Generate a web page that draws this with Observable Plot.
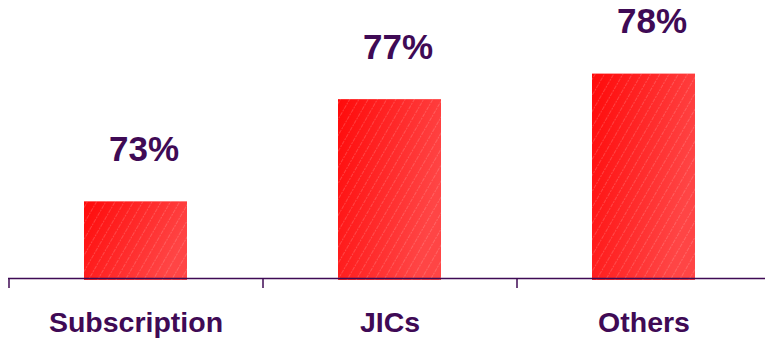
<!DOCTYPE html>
<html>
<head>
<meta charset="utf-8">
<script src="https://cdn.jsdelivr.net/npm/d3@7"></script>
<script src="https://cdn.jsdelivr.net/npm/@observablehq/plot@0.6"></script>
<style>
  html, body { margin: 0; padding: 0; background: #fff; }
  svg { display: block; }
</style>
</head>
<body>
<div id="chart"></div>
<script>
const categories = ["Subscription", "JICs", "Others"];
const values = [73, 77, 78];
const labels = ["73%", "77%", "78%"];

const data = categories.map((c, i) => ({category: c, value: values[i], label: labels[i]}));
const ink = "#3f0a55";

const chart = Plot.plot({
  width: 765,
  height: 341,
  marginLeft: 8,
  marginRight: 0,
  marginTop: 22.5,
  marginBottom: 63,
  style: {fontFamily: "Arial, 'Liberation Sans', sans-serif", background: "#fff", overflow: "visible"},
  x: {domain: categories, range: [8, 770], paddingInner: 0.595, paddingOuter: 0.2975, align: 0.5, label: null},
  y: {domain: [70, 80], axis: null},
  marks: [
    Plot.barY(data, {x: "category", y1: 70, y2: "value", fill: "url(#barGrad)", insetBottom: -2}),
    Plot.barY(data, {x: "category", y1: 70, y2: "value", fill: "url(#hatch)", insetBottom: -2}),
    Plot.ruleY([70], {stroke: ink, strokeWidth: 1.6}),
    Plot.axisX({tickSize: 10, stroke: ink, strokeWidth: 1.5, fill: "none", dx: -127, strokeOpacity: 1}),
    Plot.axisX({tickSize: 0, tickPadding: 33, fontSize: 28.5, fontWeight: "bold", fill: ink, label: null}),
    Plot.text(data, {x: "category", y: "value", text: "label", dy: -52, dx: 8, fontSize: 35, fontWeight: "bold", fill: ink})
  ]
});

const svg = d3.select(chart.tagName.toLowerCase() === "svg" ? chart : chart.querySelector("svg"));
const defs = svg.insert("defs", ":first-child");
const grad = defs.append("linearGradient").attr("id", "barGrad")
  .attr("x1", "0").attr("y1", "0").attr("x2", "1").attr("y2", "0.4");
grad.append("stop").attr("offset", "0").attr("stop-color", "#ff0a0a");
grad.append("stop").attr("offset", "1").attr("stop-color", "#ff4545");
const pat = defs.append("pattern").attr("id", "hatch")
  .attr("patternUnits", "userSpaceOnUse").attr("width", 8).attr("height", 8)
  .attr("patternTransform", "rotate(30)");
pat.append("line").attr("x1", 0).attr("y1", 0).attr("x2", 0).attr("y2", 8)
  .attr("stroke", "#ffd0d0").attr("stroke-width", 0.8).attr("stroke-opacity", 0.55)
  .attr("stroke-dasharray", "2 1");

document.getElementById("chart").appendChild(chart);
</script>
</body>
</html>
